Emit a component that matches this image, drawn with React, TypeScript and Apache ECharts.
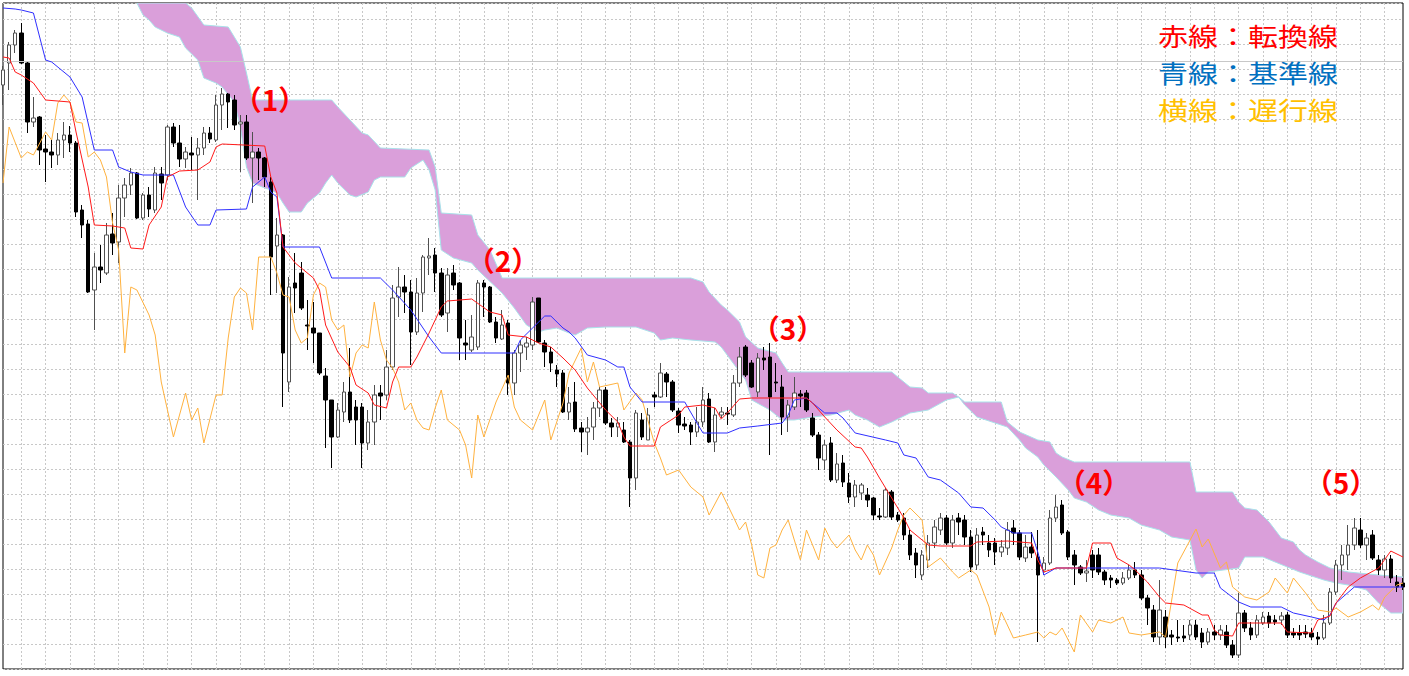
import React, { useEffect, useRef } from 'react';
import * as echarts from 'echarts';

// Price values in pips (arbitrary base). Each candle: [open, close, low, high]
const ohlc: number[][] = [
  [584,599,564,603],[606,624,579,627],[624,636,616,639],[636,606,605,646],[606,547,536,607],
  [547,551,542,572],[552,519,504,553],[520,517,487,534],[517,514,501,529],[514,529,504,536],
  [529,534,511,547],[534,526,517,543],[526,457,452,528],[459,444,431,464],[445,377,376,449],
  [379,402,339,416],[402,399,386,424],[396,434,394,446],[435,426,414,456],[427,471,406,484],
  [471,484,452,491],[484,496,474,501],[496,451,450,497],[451,474,449,476],[474,460,452,482],
  [459,496,456,502],[495,486,469,502],[494,542,489,544],[542,526,522,546],[526,510,502,544],
  [510,517,501,522],[516,514,499,532],[514,521,469,531],[521,536,514,542],[536,530,526,542],
  [529,564,527,574],[564,575,539,581],[575,567,541,576],[569,544,539,574],[545,547,497,554],
  [547,511,509,554],[511,517,466,537],[517,511,489,521],[511,492,482,512],[487,412,374,492],
  [423,434,376,451],[434,316,262,435],[287,382,277,392],[386,381,356,416],[396,361,359,407],
  [344,343,319,369],[341,336,306,367],[336,296,294,336],[293,269,221,301],[269,232,201,269],
  [232,259,231,266],[257,277,247,287],[277,249,246,321],[262,249,224,269],[262,226,201,266],
  [226,247,219,259],[247,274,224,284],[276,273,249,284],[274,302,269,319],[302,371,299,384],
  [372,382,352,402],[382,377,356,394],[377,337,304,389],[337,376,334,391],[376,412,357,414],
  [411,413,394,431],[414,396,377,421],[396,354,352,401],[356,394,337,401],[396,384,379,404],
  [386,331,309,387],[326,324,309,349],[319,332,317,354],[322,386,319,389],[386,382,352,389],
  [382,347,346,383],[347,331,326,352],[330,344,329,359],[346,286,274,349],[286,316,274,319],
  [316,324,297,329],[322,326,309,332],[324,367,319,372],[371,327,326,371],[326,317,302,329],
  [317,306,297,322],[299,295,282,304],[296,257,256,299],[257,266,249,282],[267,240,237,287],
  [241,237,217,247],[237,241,214,252],[242,261,229,267],[261,279,252,282],[279,246,244,282],
  [246,242,232,251],[242,246,232,252],[239,227,226,247],[227,191,162,229],[191,256,179,259],
  [249,232,229,256],[229,254,229,261],[274,272,262,277],[272,296,271,306],[295,287,272,297],
  [287,259,257,289],[258,244,236,261],[245,243,239,252],[244,237,224,247],[237,247,232,262],
  [247,269,242,282],[270,227,226,276],[227,254,217,261],[254,257,251,262],[256,255,244,262],
  [254,286,252,294],[286,312,282,322],[322,294,292,324],[306,282,281,309],[277,311,272,316],
  [311,309,299,322],[312,272,214,326],[287,286,277,306],[282,252,234,294],[252,264,237,269],
  [262,276,259,292],[275,273,262,279],[276,259,257,279],[251,234,232,256],[234,211,199,237],
  [209,224,199,229],[226,189,187,232],[189,205,186,216],[206,187,182,214],[186,172,166,196],
  [172,184,162,189],[176,184,169,186],[174,169,162,181],[171,154,149,172],[153,152,149,161],
  [152,179,151,181],[177,152,149,179],[154,149,147,157],[151,134,129,156],[134,114,109,139],
  [116,104,91,121],[94,114,89,119],[109,126,101,134],[126,142,121,149],[139,151,134,156],
  [151,126,124,154],[126,149,121,154],[151,147,134,156],[149,132,124,154],[132,102,97,139],
  [104,134,99,141],[137,134,124,142],[126,119,112,134],[126,117,104,131],[117,122,112,129],
  [121,139,114,147],[141,136,124,149],[136,112,109,139],[111,122,107,134],[122,116,111,137],
  [112,94,27,139],[99,106,94,112],[106,151,104,159],[151,162,147,174],[164,136,134,169],
  [137,112,109,139],[114,104,84,119],[102,96,94,104],[96,98,87,109],[114,99,91,119],
  [114,97,94,121],[97,89,84,99],[91,89,81,94],[89,86,84,91],[86,91,84,97],
  [91,99,89,104],[99,94,91,107],[94,71,69,99],[71,61,44,74],[59,32,27,64],
  [32,59,24,89],[52,32,21,59],[34,32,24,39],[32,31,27,49],[33,31,27,44],
  [34,44,29,49],[44,32,29,49],[36,27,21,41],[27,37,24,41],[37,34,29,44],
  [34,39,29,44],[37,24,21,44],[24,14,11,29],[14,56,11,76],[56,41,37,59],
  [41,34,29,47],[34,49,31,54],[46,52,44,57],[53,46,41,57],[49,47,44,54],
  [49,53,44,57],[54,34,31,57],[36,34,31,41],[36,34,29,44],[37,35,31,44],
  [36,32,29,41],[32,30,24,37],[31,46,29,54],[46,77,44,81],[77,104,74,109],
  [104,114,89,124],[114,124,99,144],[124,141,119,151],[139,124,121,151],[124,131,109,136],
  [134,111,109,139],[109,99,94,114],[99,110,91,114],[110,91,86,114],[87,82,77,94],
  [86,82,79,91]
];

const categories: string[] = ohlc.map((_, i) => String(i + 1));

// 転換線 (conversion line) vertices: [candle index, value]
const tenkan: number[][] = [
  [0,612],[1,611],[2,597],[3,594],[5,586],[7,569],[11,567],[12,537],[14,482],[15,444],[18,443],[20,441],
  [21,421],[23,420],[24,444],[26,462],[27,492],[29,498],[32,499],[34,507],[35,522],[36,525],[43,523],
  [44,492],[45,476],[46,422],[48,406],[49,401],[51,391],[52,379],[53,344],[55,317],[57,302],[58,284],
  [60,276],[61,264],[63,261],[64,287],[65,302],[67,302],[68,312],[70,336],[72,362],[73,368],[77,370],
  [80,357],[82,354],[83,334],[86,332],[88,326],[90,322],[92,311],[94,299],[96,281],[99,259],[101,247],
  [102,232],[103,223],[107,223],[108,242],[111,254],[112,262],[115,264],[117,261],[118,250],[119,256],
  [121,270],[123,271],[132,271],[133,266],[135,252],[137,239],[140,222],[141,221],[142,212],[144,191],
  [145,181],[147,161],[148,151],[149,139],[151,129],[152,124],[154,123],[159,123],[160,127],[165,128],
  [169,126],[170,109],[171,97],[172,99],[173,101],[178,101],[179,126],[182,126],[183,111],[185,104],
  [186,99],[188,87],[190,72],[191,66],[194,64],[197,54],[198,54],[199,39],[200,34],[202,33],[203,46],
  [210,46],[211,37],[215,36],[216,49],[218,53],[219,66],[221,82],[223,91],[226,101],[228,118],[230,112]
];

// 基準線 (base line)
const kijun: number[][] = [
  [0,661],[2,660],[3,659],[5,656],[7,609],[8,607],[11,592],[13,572],[15,519],[18,519],[19,502],[21,497],
  [23,494],[28,494],[30,462],[32,444],[34,444],[35,459],[40,460],[41,482],[43,492],[44,477],[45,472],
  [46,422],[52,422],[54,391],[62,391],[64,379],[67,359],[70,332],[72,316],[84,316],[85,329],[89,353],
  [90,353],[92,341],[93,337],[94,331],[96,314],[99,309],[101,302],[102,302],[103,282],[105,267],
  [112,267],[114,246],[115,236],[119,236],[121,241],[124,243],[128,246],[129,254],[130,269],[132,271],
  [133,266],[135,256],[137,256],[138,251],[140,236],[145,229],[147,226],[148,214],[150,211],[152,192],
  [154,189],[157,176],[159,162],[161,161],[163,149],[164,142],[166,136],[169,136],[170,117],[171,94],
  [173,101],[190,101],[196,96],[199,96],[200,81],[203,67],[205,62],[210,62],[212,56],[215,52],[217,49],
  [218,54],[219,66],[222,82],[230,82]
];

// 遅行線 (lagging span)
const chikou: number[][] = [
  [0,486],[1,542],[3,511],[4,517],[5,514],[7,537],[8,529],[9,566],[10,574],[11,567],[12,547],[13,546],
  [14,512],[15,517],[16,509],[17,492],[18,446],[19,419],[20,316],[21,382],[22,379],[24,354],[25,334],
  [26,287],[28,232],[30,276],[31,249],[32,261],[33,226],[35,274],[36,274],[37,331],[38,372],[39,381],
  [40,376],[41,339],[42,412],[44,412],[45,396],[46,374],[47,372],[48,339],[49,326],[50,331],[51,374],
  [52,386],[53,382],[54,349],[55,339],[56,344],[57,292],[58,316],[59,324],[60,321],[61,367],[62,329],
  [63,309],[64,301],[65,287],[66,259],[67,266],[68,249],[69,241],[70,239],[71,261],[72,279],[73,249],
  [75,239],[76,224],[77,191],[78,254],[79,232],[81,267],[83,294],[84,262],[85,249],[87,239],[89,269],
  [90,229],[92,266],[93,296],[95,321],[96,287],[97,307],[98,282],[101,286],[102,259],[104,276],
  [105,269],[107,226],[108,211],[109,194],[111,199],[113,182],[115,172],[116,154],[118,177],[120,152],
  [121,139],[122,147],[123,124],[124,94],[125,91],[126,121],[127,124],[128,139],[129,149],[130,129],
  [131,109],[132,139],[133,124],[134,109],[135,141],[136,129],[137,121],[139,134],[140,119],[141,109],
  [142,124],[143,114],[144,94],[146,121],[147,139],[148,154],[149,161],[151,149],[152,102],[154,111],
  [156,97],[157,91],[159,99],[160,94],[162,62],[163,34],[164,57],[166,31],[168,34],[170,37],[171,31],
  [172,37],[173,34],[174,41],[176,17],[177,54],[179,37],[180,49],[182,46],[184,52],[185,36],[187,34],
  [190,37],[191,32],[193,106],[196,140],[197,122],[198,130],[200,101],[201,107],[202,82],[204,72],
  [206,69],[208,77],[209,91],[211,76],[212,91],[214,76],[216,59],[218,57],[219,61],[221,52],[223,57],
  [225,64],[226,59],[227,72],[229,84],[230,86]
];

// 雲 (cloud) upper and lower edges
const cloudTop: number[][] = [
  [22,679],[30,666],[31,661],[33,644],[37,642],[39,622],[40,596],[41,569],[54,569],[55,562],[57,549],
  [59,536],[60,534],[62,521],[70,519],[71,502],[72,456],[77,454],[78,434],[80,419],[82,391],[113,391],
  [115,387],[116,377],[118,364],[119,359],[121,347],[122,332],[124,321],[127,316],[128,306],[129,297],
  [146,297],[149,282],[151,281],[152,276],[156,276],[157,272],[158,267],[164,267],[165,247],[167,237],
  [170,229],[172,227],[173,216],[174,212],[176,207],[195,207],[196,177],[202,177],[203,167],[204,161],
  [206,159],[208,147],[209,139],[210,131],[212,127],[213,119],[214,114],[216,107],[218,101],[221,97],
  [226,94],[230,92]
];
const cloudBottom: number[][] = [
  [22,666],[23,654],[24,649],[25,642],[27,636],[29,632],[30,621],[32,609],[33,591],[35,586],[36,582],
  [38,567],[39,542],[40,502],[41,486],[43,481],[44,479],[45,476],[46,466],[47,457],[49,457],[50,466],
  [52,476],[53,486],[54,494],[55,486],[57,474],[58,472],[60,477],[61,489],[62,492],[66,492],[67,501],
  [69,509],[70,499],[71,479],[72,419],[74,411],[77,406],[78,399],[82,376],[84,361],[86,344],[88,337],
  [89,339],[91,341],[93,336],[94,334],[96,341],[99,342],[104,342],[107,336],[108,329],[110,331],
  [113,329],[117,327],[118,322],[122,289],[123,269],[126,259],[128,249],[130,249],[133,252],[136,254],
  [139,259],[140,254],[142,249],[144,242],[146,247],[149,256],[152,259],[155,269],[157,272],[158,264],
  [160,252],[163,246],[165,242],[167,229],[168,221],[170,212],[171,204],[173,192],[175,179],[176,171],
  [178,167],[180,159],[182,154],[185,151],[187,144],[190,139],[192,132],[195,129],[196,99],[197,91],
  [198,97],[203,101],[204,112],[207,112],[211,102],[213,97],[217,89],[219,86],[221,84],[224,79],
  [226,66],[228,56],[230,56]
];

const priceLine = 608;
const yMin = 0;
const yMax = 666;
const yStep = 25;

const legendLines = ['赤線：転換線', '青線：基準線', '横線：遅行線'];
const legendColors = ['#ff0000', '#0070c0', '#ffc000'];
const marks = ['（1）', '（2）', '（3）', '（4）', '（5）'];
const markPos = [[270, 99], [503, 260], [788, 328], [1094, 482], [1341, 482]];

export default function App() {
  const ref = useRef<HTMLDivElement>(null);
  useEffect(() => {
    if (!ref.current) return;
    const chart = echarts.init(ref.current, null, { renderer: 'svg' });
    const gridLine = { color: '#c8c8c8', type: [2, 2], width: 1 };
    const option: any = {
      animation: false,
      backgroundColor: '#ffffff',
      grid: { left: 3, right: 6, top: 3, bottom: 7, show: true, borderColor: '#000000', borderWidth: 1, backgroundColor: 'transparent' },
      xAxis: {
        type: 'category',
        data: categories,
        boundaryGap: false,
        axisLine: { show: false },
        axisTick: { show: false },
        axisLabel: { show: false },
        splitLine: { show: true, interval: (idx: number) => idx % 4 === 3, lineStyle: gridLine },
      },
      yAxis: {
        type: 'value',
        min: yMin,
        max: yMax,
        interval: yStep,
        axisLine: { show: false },
        axisTick: { show: false },
        axisLabel: { show: false },
        splitLine: { show: true, lineStyle: gridLine },
      },
      series: [
        {
          type: 'custom',
          name: '雲',
          silent: true,
          clip: true,
          z: 1,
          data: [[115, 300]],
          renderItem: (params: any, api: any) => {
            const clamp = (v: number) => Math.max(yMin, Math.min(yMax, v));
            const pts: number[][] = [];
            for (const [i, v] of cloudTop) pts.push(api.coord([i, clamp(v)]));
            for (let k = cloudBottom.length - 1; k >= 0; k--) {
              const [i, v] = cloudBottom[k];
              pts.push(api.coord([i, clamp(v)]));
            }
            return {
              type: 'polygon',
              shape: { points: pts },
              style: { fill: '#da9fda', stroke: '#a9e2ea', lineWidth: 1 },
            };
          },
        },
        {
          type: 'candlestick',
          name: 'ローソク足',
          data: ohlc,
          barWidth: 4,
          z: 3,
          itemStyle: {
            color: '#ffffff',
            color0: '#000000',
            borderColor: '#505050',
            borderColor0: '#000000',
            borderWidth: 1,
          },
          markLine: {
            silent: true,
            symbol: ['none', 'none'],
            label: { show: false },
            lineStyle: { color: '#c8c8c8', type: 'solid', width: 1 },
            data: [{ yAxis: priceLine }],
          },
        },
        {
          type: 'line', name: '遅行線', data: chikou, symbol: 'none', z: 4,
          lineStyle: { color: '#ffb23f', width: 1 },
        },
        {
          type: 'line', name: '基準線', data: kijun, symbol: 'none', z: 5,
          lineStyle: { color: '#2f2fff', width: 1 },
        },
        {
          type: 'line', name: '転換線', data: tenkan, symbol: 'none', z: 6,
          lineStyle: { color: '#ff1a1a', width: 1 },
        },
      ],
      graphic: [
        ...legendLines.map((t, k) => ({
          type: 'text',
          x: 1158,
          y: 35 + k * 37,
          scaleX: 1.2,
          z: 100,
          style: {
            text: t,
            fill: legendColors[k],
            fontSize: 25,
            fontFamily: '"Noto Sans CJK JP", sans-serif',
            verticalAlign: 'middle',
            align: 'left',
          },
        })),
        ...marks.map((t, k) => ({
          type: 'text',
          x: markPos[k][0],
          y: markPos[k][1],
          z: 100,
          style: {
            text: t,
            fill: '#ff0000',
            fontSize: 28,
            fontWeight: 'bold',
            fontFamily: '"Noto Sans CJK JP", sans-serif',
            verticalAlign: 'middle',
            align: 'center',
          },
        })),
      ],
    };
    chart.setOption(option);
    return () => chart.dispose();
  }, []);
  return (
    <div
      ref={ref}
      style={{ position: 'fixed', left: 0, top: 0, width: 1409, height: 676, background: '#ffffff' }}
    />
  );
}
